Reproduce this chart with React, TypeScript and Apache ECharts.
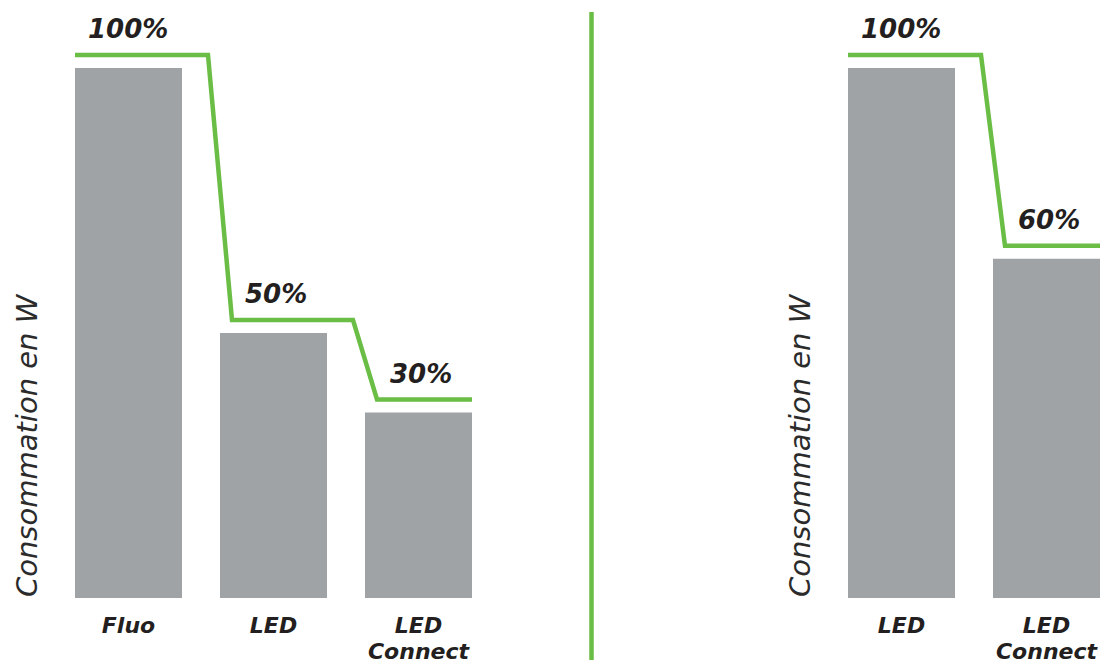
import React, { useEffect, useRef } from "react";
import * as echarts from "echarts";

const leftCategories = ["Fluo", "LED", "LED\nConnect"];
const leftConsumption = [100, 50, 35];
const leftPercentLabels = ["100%", "50%", "30%"];

const rightCategories = ["LED", "LED\nConnect"];
const rightConsumption = [100, 64];
const rightPercentLabels = ["100%", "60%"];

const yAxisTitle = "Consommation en W";

const GREEN = "#6abd45";
const GRAY = "#a0a3a6";
const TEXT = "#231f20";
const FONT = "DejaVu Sans";
const BAR_W = 107;

function makeStepRenderer(values: number[], labels: string[]) {
  return (params: any, api: any) => {
    if (params.dataIndex !== 0) return { type: "group", children: [] };
    const half = BAR_W / 2;
    const pts: number[][] = [];
    const texts: any[] = [];
    values.forEach((v, i) => {
      const c = api.coord([i, v]);
      const y = c[1] - 13;
      const left = c[0] - half;
      const right = c[0] + half;
      const startX = i === 0 ? left : left + 12;
      const endX = i === values.length - 1 ? right : right + 26;
      pts.push([startX, y], [endX, y]);
      texts.push({
        type: "text",
        x: startX + 13,
        y: y - 26,
        style: {
          text: labels[i],
          fill: TEXT,
          font: `italic bold 26px "${FONT}"`,
          align: "left",
          verticalAlign: "middle",
        },
      });
    });
    return {
      type: "group",
      children: [
        {
          type: "polyline",
          shape: { points: pts },
          style: { stroke: GREEN, lineWidth: 4.5, fill: "none", lineJoin: "miter" },
        },
        ...texts,
      ],
    };
  };
}

export default function App() {
  const ref = useRef<HTMLDivElement>(null);
  useEffect(() => {
    if (!ref.current) return;
    const chart = echarts.init(ref.current, undefined, { renderer: "svg" });
    const xAxisCommon = {
      type: "category" as const,
      axisLine: { show: false },
      axisTick: { show: false },
      axisLabel: {
        color: TEXT,
        fontFamily: FONT,
        fontStyle: "italic" as const,
        fontWeight: "bold" as const,
        fontSize: 22,
        lineHeight: 26,
        margin: 14,
        interval: 0,
      },
    };
    const yAxisCommon = {
      type: "value" as const,
      min: 0,
      max: 100,
      show: false,
      splitLine: { show: false },
    };
    chart.setOption({
      animation: false,
      backgroundColor: "#ffffff",
      grid: [
        { left: 56, width: 435, top: 68, bottom: 64, outerBoundsMode: "none", containLabel: false },
        { left: 829, width: 290, top: 68, bottom: 64, outerBoundsMode: "none", containLabel: false },
      ],
      xAxis: [
        { ...xAxisCommon, gridIndex: 0, data: leftCategories },
        { ...xAxisCommon, gridIndex: 1, data: rightCategories },
      ],
      yAxis: [
        { ...yAxisCommon, gridIndex: 0 },
        { ...yAxisCommon, gridIndex: 1 },
      ],
      series: [
        {
          type: "bar",
          xAxisIndex: 0,
          yAxisIndex: 0,
          data: leftConsumption,
          barWidth: BAR_W,
          itemStyle: { color: GRAY },
        },
        {
          type: "bar",
          xAxisIndex: 1,
          yAxisIndex: 1,
          data: rightConsumption,
          barWidth: BAR_W,
          itemStyle: { color: GRAY },
        },
        {
          type: "custom",
          xAxisIndex: 0,
          yAxisIndex: 0,
          data: leftConsumption.map((v, i) => [i, v]),
          renderItem: makeStepRenderer(leftConsumption, leftPercentLabels),
          clip: false,
          z: 5,
        },
        {
          type: "custom",
          xAxisIndex: 1,
          yAxisIndex: 1,
          data: rightConsumption.map((v, i) => [i, v]),
          renderItem: makeStepRenderer(rightConsumption, rightPercentLabels),
          clip: false,
          z: 5,
        },
      ],
      graphic: [
        {
          id: "divider",
          type: "line",
          shape: { x1: 591.5, y1: 12, x2: 591.5, y2: 660 },
          style: { stroke: GREEN, lineWidth: 4.5 },
        },
        {
          id: "ytitle1",
          type: "text",
          x: 27,
          y: 597,
          rotation: Math.PI / 2,
          style: {
            text: yAxisTitle,
            fill: "#2b2b2b",
            font: `italic 200 29px "${FONT}"`,
            align: "left",
            verticalAlign: "middle",
          },
        },
        {
          id: "ytitle2",
          type: "text",
          x: 800,
          y: 597,
          rotation: Math.PI / 2,
          style: {
            text: yAxisTitle,
            fill: "#2b2b2b",
            font: `italic 200 29px "${FONT}"`,
            align: "left",
            verticalAlign: "middle",
          },
        },
      ],
    });
    return () => chart.dispose();
  }, []);
  return (
    <div
      style={{
        position: "absolute",
        left: 0,
        top: 0,
        width: 1100,
        height: 662,
        overflow: "hidden",
      }}
    >
      <div ref={ref} style={{ width: 1120, height: 662 }} />
    </div>
  );
}
